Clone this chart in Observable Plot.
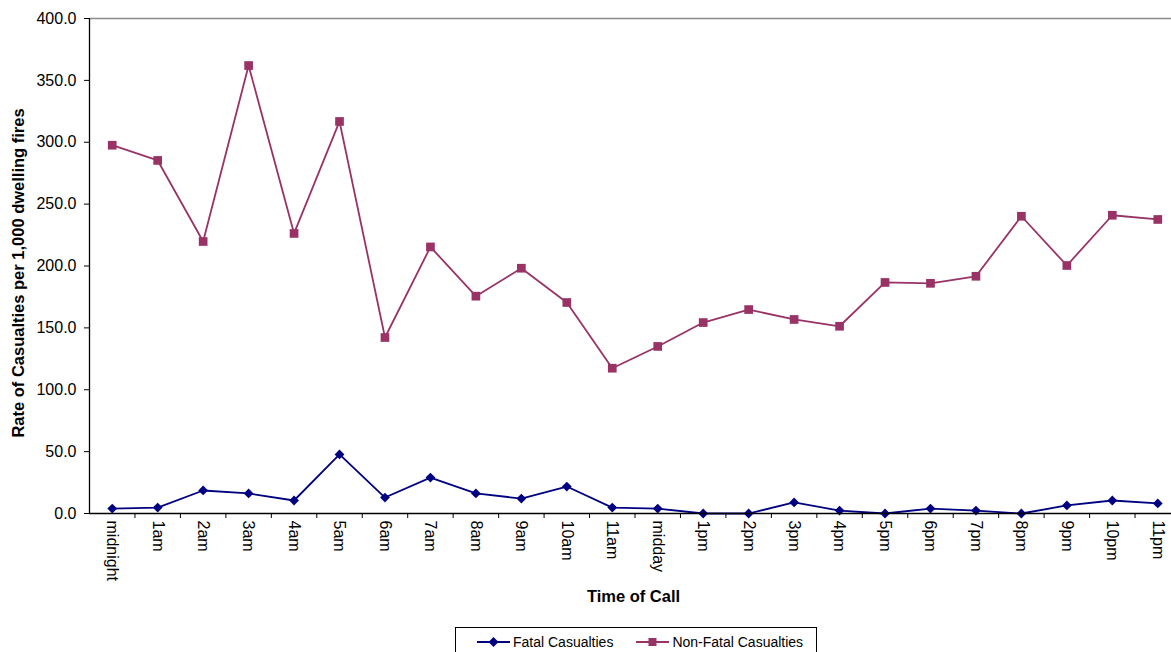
<!DOCTYPE html>
<html>
<head>
<meta charset="utf-8">
<script src="https://cdn.jsdelivr.net/npm/d3@7"></script>
<script src="https://cdn.jsdelivr.net/npm/@observablehq/plot@0.6"></script>
<style>
  html, body { margin: 0; padding: 0; background: #fff; overflow: hidden; }
  body { width: 1171px; height: 652px; position: relative; font-family: "Liberation Sans", Arial, sans-serif; }
  #chart svg { display: block; }
  #legend { position: absolute; left: 455px; top: 627px; width: 362px; height: 40px; box-sizing: border-box;
            border: 1px solid #000; background: #fff; display: flex; align-items: flex-start; padding: 4px 0 0 21px;
            font-size: 14px; color: #000; }
  .item { display: flex; align-items: center; height: 20px; }
  .item svg { display: block; margin-right: 3px; }
</style>
</head>
<body>
<div id="chart"></div>
<div id="legend"></div>
<script>
const hours = ["midnight","1am","2am","3am","4am","5am","6am","7am","8am","9am","10am","11am",
               "midday","1pm","2pm","3pm","4pm","5pm","6pm","7pm","8pm","9pm","10pm","11pm"];
const fatal = [4.0, 4.8, 18.6, 16.2, 10.5, 47.7, 12.9, 29.0, 16.2, 12.1, 21.8, 4.8,
               4.0, 0.0, 0.0, 8.9, 2.4, 0.0, 4.0, 2.4, 0.0, 6.5, 10.5, 8.1];
const nonFatal = [297.6, 285.3, 219.8, 362.0, 226.3, 316.8, 142.2, 215.4, 175.6, 198.2, 170.5, 117.4,
                  135.0, 154.3, 164.8, 156.8, 151.3, 186.7, 186.0, 191.7, 240.2, 200.4, 241.0, 237.6];
const yTicks = [0, 50, 100, 150, 200, 250, 300, 350, 400];
const seriesNames = ["Fatal Casualties", "Non-Fatal Casualties"];
const colors = ["#000080", "#993366"];
const xTitle = "Time of Call";
const yTitle = "Rate of Casualties per 1,000 dwelling fires";

const fatalData = hours.map((h, i) => ({i, v: fatal[i]}));
const nonFatalData = hours.map((h, i) => ({i, v: nonFatal[i]}));
const boundaries = d3.range(0.5, hours.length, 1);

const plot = Plot.plot({
  width: 1171,
  height: 627,
  marginLeft: 89,
  marginTop: 18,
  marginBottom: 114,
  marginRight: 0,
  style: {fontFamily: "'Liberation Sans', Arial, sans-serif", fontSize: "16px", color: "#000", overflow: "visible"},
  x: {type: "linear", domain: [-0.5, hours.length - 0.5], range: [89, 1180]},
  y: {domain: [0, 400], range: [513, 18]},
  marks: [
    Plot.ruleY([400], {stroke: "#8c8c8c", strokeWidth: 1.3}),
    Plot.axisY({ticks: yTicks, tickFormat: d => d.toFixed(1), tickSize: 5, tickPadding: 8, label: null, stroke: "#000", fill: "#000", fontSize: 16}),
    Plot.axisX({ticks: boundaries, tickSize: 5, tickFormat: () => "", label: null, stroke: "#000"}),
    Plot.axisX({ticks: d3.range(hours.length), tickSize: 0, tickPadding: 7, tickRotate: 90,
                tickFormat: i => hours[i], label: null, fill: "#000", fontSize: 16}),
    Plot.line(nonFatalData, {x: "i", y: "v", stroke: colors[1], strokeWidth: 1.8}),
    Plot.dot(nonFatalData, {x: "i", y: "v", symbol: "square", r: 4.9, fill: colors[1], stroke: "none"}),
    Plot.line(fatalData, {x: "i", y: "v", stroke: colors[0], strokeWidth: 1.8}),
    Plot.dot(fatalData, {x: "i", y: "v", symbol: "diamond2", r: 4.4, fill: colors[0], stroke: "none"}),
    Plot.ruleX([-0.5], {y1: 0, y2: 400, stroke: "#000", strokeWidth: 1.3}),
    Plot.ruleY([0], {stroke: "#000", strokeWidth: 1.3}),
    Plot.text([xTitle], {frameAnchor: "bottom", dy: 88, fontWeight: "bold", fontSize: 16.5, fill: "#000", dx: 3}),
    Plot.text([yTitle], {frameAnchor: "left", rotate: -90, textAnchor: "middle", dx: -71, dy: 7, fontWeight: "bold", fontSize: 16.5, fill: "#000"})
  ]
});
document.getElementById("chart").appendChild(plot);

// Legend (HTML below the chart)
const legend = document.getElementById("legend");
const symbols = [
  '<path d="M16.5,2 L21.5,7 L16.5,12 L11.5,7 Z" fill="' + colors[0] + '"/>',
  '<rect x="12.5" y="3" width="8" height="8" fill="' + colors[1] + '"/>'
];
seriesNames.forEach((name, k) => {
  const item = document.createElement("div");
  item.className = "item";
  if (k === 1) item.style.marginLeft = "23px";
  item.innerHTML = '<svg width="33" height="14"><line x1="0" y1="7" x2="33" y2="7" stroke="' + colors[k] + '" stroke-width="1.8"/>' +
    symbols[k] + '</svg><span>' + name + '</span>';
  legend.appendChild(item);
});
</script>
</body>
</html>
